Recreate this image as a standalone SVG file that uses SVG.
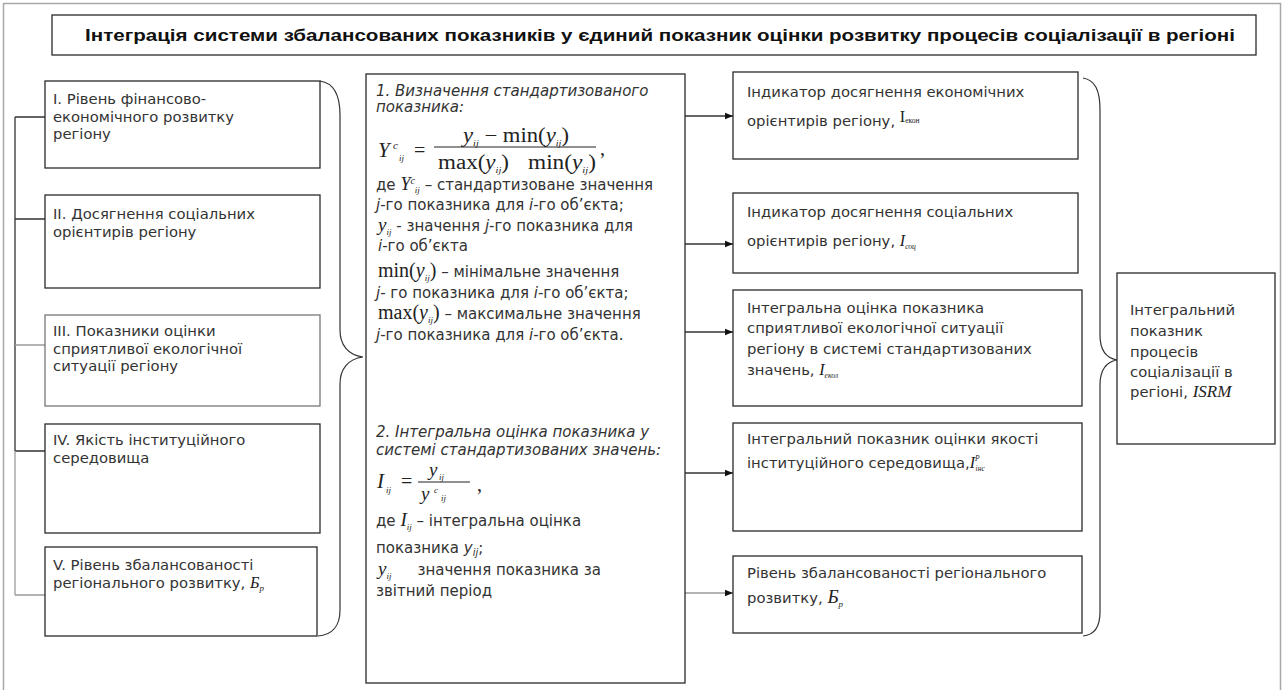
<svg xmlns="http://www.w3.org/2000/svg" width="1285" height="690" viewBox="0 0 1285 690">
<defs>
<style>
.bg{fill:#fff}
.frame{fill:none;stroke:#a8a8a8;stroke-width:1.5}
.box{fill:#fff;stroke:#2a2a2a;stroke-width:1.3}
.t{font-family:"DejaVu Sans",Verdana,sans-serif;font-size:14.8px;fill:#333}
.c{font-size:15px}
.it{font-style:italic}
.m{font-family:"Liberation Serif","Times New Roman",serif;font-size:20px;fill:#222}
.mi{font-family:"Liberation Serif","Times New Roman",serif;font-style:italic;fill:#222}
.sb{font-family:"Liberation Serif","Times New Roman",serif;font-style:italic;font-size:11px;fill:#222}
.tiny{font-size:7.5px}
.title{font-family:"Liberation Sans Narrow","Liberation Sans",sans-serif;font-weight:bold;font-size:16px;fill:#111}
.ln{fill:none;stroke:#333;stroke-width:1.3}
.lg{fill:none;stroke:#9a9a9a;stroke-width:1.3}
.br{fill:none;stroke:#333;stroke-width:1.2}
</style>
<marker id="ah" viewBox="0 0 10 10" refX="10" refY="5" markerWidth="8" markerHeight="8" markerUnits="userSpaceOnUse" orient="auto"><path d="M0,1 L10,5 L0,9 z" fill="#111"/></marker>
</defs>
<rect class="bg" x="0" y="0" width="1285" height="690"/>
<rect class="frame" x="3.5" y="3.5" width="1277" height="700"/>

<g id="title">
<rect class="box" x="52" y="15" width="1204" height="40"/>
<text class="title" x="660" y="41" text-anchor="middle" textLength="1150" lengthAdjust="spacingAndGlyphs">Інтеграція системи збалансованих показників у єдиний показник оцінки розвитку процесів соціалізації в регіоні</text>
</g>

<g id="connectors">
<path class="ln" d="M15,117 V451 M15,117 H45 M15,219 H45 M15,451 H45"/>
<path class="lg" d="M15,451 V595 M15,345 H45 M15,595 H45"/>
<path class="br" d="M320,81 C334,83 340,95 340,115 L340,330 C340,345 348,355 363,357 C348,359 340,369 340,384 L340,610 C340,626 332,635 318,636"/>
<path class="br" d="M1083,78 C1095,80 1100,90 1100,110 L1100,335 C1100,350 1106,358 1117,360 C1106,362 1100,370 1100,385 L1100,612 C1100,628 1094,635 1083,636"/>
<line class="ln" x1="685" y1="116" x2="733" y2="116" marker-end="url(#ah)"/>
<line class="ln" x1="685" y1="244" x2="733" y2="244" marker-end="url(#ah)"/>
<line class="ln" x1="685" y1="332" x2="733" y2="332" marker-end="url(#ah)"/>
<line class="ln" x1="685" y1="473" x2="733" y2="473" marker-end="url(#ah)"/>
<line class="lg" x1="685" y1="593" x2="733" y2="593" marker-end="url(#ah)"/>
</g>

<g id="n1">
<rect class="box" x="45" y="81" width="275" height="87"/>
<text class="t" x="53" y="104">I. Рівень фінансово-</text>
<text class="t" x="53" y="122">економічного розвитку</text>
<text class="t" x="53" y="139">регіону</text>
</g>
<g id="n2">
<rect class="box" x="45" y="195" width="275" height="93"/>
<text class="t" x="53" y="219">II. Досягнення соціальних</text>
<text class="t" x="53" y="237">орієнтирів регіону</text>
</g>
<g id="n3">
<rect class="box" x="45" y="315" width="275" height="91" style="stroke:#777"/>
<text class="t" x="53" y="336">III. Показники оцінки</text>
<text class="t" x="53" y="354">сприятливої екологічної</text>
<text class="t" x="53" y="371">ситуації регіону</text>
</g>
<g id="n4">
<rect class="box" x="45" y="424" width="275" height="109"/>
<text class="t" x="53" y="445">IV. Якість інституційного</text>
<text class="t" x="53" y="463">середовища</text>
</g>
<g id="n5">
<rect class="box" x="45" y="547" width="272" height="89"/>
<text class="t" x="53" y="570">V. Рівень збалансованості</text>
<text class="t" x="53" y="588">регіонального розвитку, <tspan class="mi" style="font-size:16px">Б</tspan><tspan class="sb" style="font-size:9px" dy="3">р</tspan></text>
</g>

<g id="center">
<rect class="box" x="366" y="74" width="319" height="609"/>
<text class="t c it" x="376" y="96">1. Визначення стандартизованого</text>
<text class="t c it" x="376" y="112">показника:</text>
<text class="mi" x="378" y="157" style="font-size:21px">Y</text>
<text class="sb" x="393" y="149">c</text>
<text class="sb" x="399" y="161" style="font-size:9px">ij</text>
<text class="m" x="414" y="157">=</text>
<line x1="434" y1="147" x2="596" y2="147" stroke="#222" stroke-width="1"/>
<text class="m" x="463" y="142" textLength="106" lengthAdjust="spacingAndGlyphs"><tspan class="mi">y</tspan><tspan class="sb" style="font-size:9px" dy="4">ij</tspan><tspan dy="-4"> − min(</tspan><tspan class="mi">y</tspan><tspan class="sb" style="font-size:9px" dy="4">ij</tspan><tspan dy="-4">)</tspan></text>
<text class="m" x="438" y="169" textLength="71" lengthAdjust="spacingAndGlyphs">max(<tspan class="mi">y</tspan><tspan class="sb" style="font-size:9px" dy="4">ij</tspan><tspan dy="-4">)</tspan></text>
<text class="m" x="528" y="169" textLength="68" lengthAdjust="spacingAndGlyphs">min(<tspan class="mi">y</tspan><tspan class="sb" style="font-size:9px" dy="4">ij</tspan><tspan dy="-4">)</tspan></text>
<text class="m" x="600" y="155">,</text>
<text class="t c" x="376" y="190">де <tspan class="mi" style="font-size:18px">Y</tspan><tspan class="sb" style="font-size:10px" dy="-6">c</tspan><tspan class="sb" style="font-size:9px" dy="9">ij</tspan><tspan dy="-3"> – стандартизоване значення</tspan></text>
<text class="t c" x="376" y="210"><tspan class="it">j</tspan>-го показника для <tspan class="it">i</tspan>-го об’єкта;</text>
<text class="t c" x="378" y="231"><tspan class="mi" style="font-size:19px">y</tspan><tspan class="sb" style="font-size:9px" dy="4">ij</tspan><tspan dy="-4"> - значення </tspan><tspan class="it">j</tspan>-го показника для</text>
<text class="t c" x="378" y="251"><tspan class="it">i</tspan>-го об’єкта</text>
<text class="t c" x="378" y="277"><tspan class="m">min(</tspan><tspan class="mi" style="font-size:20px">y</tspan><tspan class="sb" style="font-size:9px" dy="4">ij</tspan><tspan class="m" dy="-4">)</tspan> – мінімальне значення</text>
<text class="t c" x="376" y="298"><tspan class="it">j</tspan>- го показника для <tspan class="it">i</tspan>-го об’єкта;</text>
<text class="t c" x="378" y="319"><tspan class="m">max(</tspan><tspan class="mi" style="font-size:20px">y</tspan><tspan class="sb" style="font-size:9px" dy="4">ij</tspan><tspan class="m" dy="-4">)</tspan> – максимальне значення</text>
<text class="t c" x="376" y="340"><tspan class="it">j</tspan>-го показника для <tspan class="it">i</tspan>-го об’єкта.</text>
<text class="t c it" x="376" y="437">2. Інтегральна оцінка показника у</text>
<text class="t c it" x="376" y="455">системі стандартизованих значень:</text>
<text class="mi" x="377" y="488" style="font-size:21px">I</text>
<text class="sb" x="386" y="493" style="font-size:9px">ij</text>
<text class="m" x="401" y="488">=</text>
<line x1="418" y1="482" x2="470" y2="482" stroke="#222" stroke-width="1"/>
<text class="mi" x="429" y="476" style="font-size:19px">y</text>
<text class="sb" x="439" y="480" style="font-size:9px">ij</text>
<text class="mi" x="421" y="500" style="font-size:19px">y</text>
<text class="sb" x="434" y="493" style="font-size:9px">c</text>
<text class="sb" x="441" y="501" style="font-size:9px">ij</text>
<text class="m" x="477" y="491">,</text>
<text class="t c" x="376" y="526">де <tspan class="mi" style="font-size:19px">I</tspan><tspan class="sb" style="font-size:9px" dy="4">ij</tspan><tspan dy="-4"> – інтегральна оцінка</tspan></text>
<text class="t c" x="376" y="553">показника <tspan class="it">y</tspan><tspan class="it" style="font-size:10px" dy="3">ij</tspan><tspan dy="-3">;</tspan></text>
<text class="t c" x="378" y="575"><tspan class="mi" style="font-size:19px">y</tspan><tspan class="sb" style="font-size:9px" dy="4">ij</tspan><tspan dx="26" dy="-4">значення показника за</tspan></text>
<text class="t c" x="376" y="596">звітний період</text>
</g>

<g id="r1">
<rect class="box" x="733" y="72" width="345" height="87"/>
<text class="t" x="747" y="97">Індикатор досягнення економічних</text>
<text class="t" x="747" y="126">орієнтирів регіону, <tspan class="m" style="font-size:16px" dy="-4">I</tspan><tspan class="m tiny" dy="1">екон</tspan></text>
</g>
<g id="r2">
<rect class="box" x="733" y="193" width="345" height="80"/>
<text class="t" x="747" y="217">Індикатор досягнення соціальних</text>
<text class="t" x="747" y="246">орієнтирів регіону, <tspan class="mi" style="font-size:16px">I</tspan><tspan class="sb tiny" dy="3">соц</tspan></text>
</g>
<g id="r3">
<rect class="box" x="733" y="290" width="349" height="116"/>
<text class="t" x="747" y="313">Інтегральна оцінка показника</text>
<text class="t" x="747" y="333">сприятливої екологічної ситуації</text>
<text class="t" x="747" y="354">регіону в системі стандартизованих</text>
<text class="t" x="747" y="375">значень, <tspan class="mi" style="font-size:16px">I</tspan><tspan class="sb tiny" dy="3">екол</tspan></text>
</g>
<g id="r4">
<rect class="box" x="733" y="423" width="349" height="108"/>
<text class="t" x="747" y="444">Інтегральний показник оцінки якості</text>
<text class="t" x="747" y="468">інституційного середовища,<tspan class="mi" style="font-size:16px">I</tspan><tspan class="sb tiny" dy="-7">P</tspan><tspan class="sb tiny" dx="-4" dy="10">інс</tspan></text>
</g>
<g id="r5">
<rect class="box" x="733" y="556" width="349" height="77"/>
<text class="t" x="747" y="578">Рівень збалансованості регіонального</text>
<text class="t" x="747" y="603">розвитку, <tspan class="mi" style="font-size:19px">Б</tspan><tspan class="sb" style="font-size:9px" dy="4">р</tspan></text>
</g>

<g id="isrm">
<rect class="box" x="1117" y="273" width="158" height="171"/>
<text class="t" x="1130" y="315">Інтегральний</text>
<text class="t" x="1130" y="336">показник</text>
<text class="t" x="1130" y="357">процесів</text>
<text class="t" x="1130" y="377">соціалізації в</text>
<text class="t" x="1130" y="397">регіоні, <tspan class="mi" style="font-size:17px">ISRM</tspan></text>
</g>
</svg>
